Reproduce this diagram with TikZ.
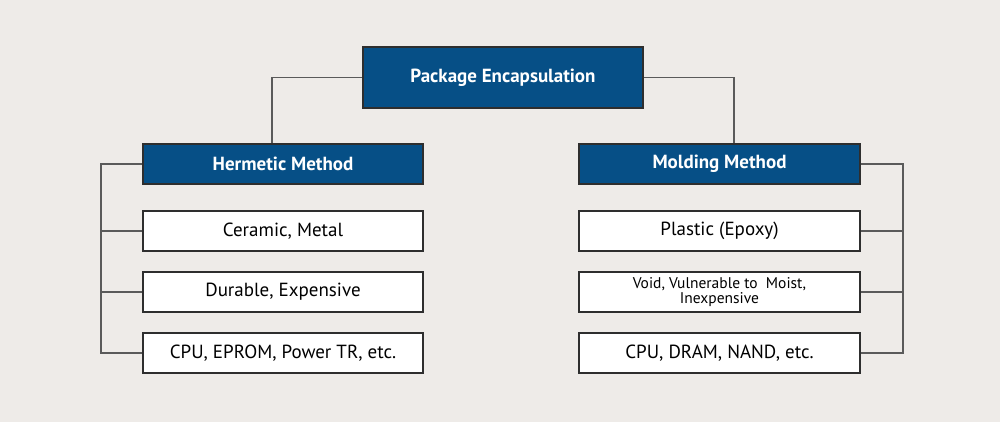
\documentclass[tikz,border=0pt]{standalone}
\usepackage{fontspec}
\setmainfont{PT Sans}
\definecolor{bg}{HTML}{EEEBE8}
\definecolor{navy}{HTML}{064F86}
\definecolor{edge}{HTML}{2E2E2E}
\definecolor{wire}{HTML}{5A5A5A}
\begin{document}
\begin{tikzpicture}[x=1pt,y=-1pt,
  head/.style={draw=edge,line width=1.3pt,fill=navy,text=white,font=\fontsize{19}{21}\selectfont\bfseries,minimum height=40pt,inner sep=0pt},
  item/.style={draw=edge,line width=1.2pt,fill=white,text=black,font=\fontsize{19}{21}\selectfont,minimum width=280pt,minimum height=40pt,inner sep=0pt,align=center},
  wirest/.style={draw=wire,line width=1.5pt}]
\fill[bg] (0,0) rectangle (1000,422);
\useasboundingbox (0,0) rectangle (1000,422);
\node[head,minimum width=280pt,minimum height=61pt] (top) at (503,77.5) {Package Encapsulation};
\node[head,minimum width=280pt] (herm) at (283,164) {Hermetic Method};
\node[head,minimum width=281pt] (mold) at (719.5,164) {Molding Method};
\node[item] (h1) at (283,231) {Ceramic, Metal};
\node[item] (h2) at (283,292) {Durable, Expensive};
\node[item] (h3) at (283,353) {CPU, EPROM, Power TR, etc.};
\node[item,minimum width=281pt] (m1) at (719.5,231) {Plastic (Epoxy)};
\node[item,minimum width=281pt,font=\fontsize{15.5}{15}\selectfont] (m2) at (719.5,292) {Void, Vulnerable to\ \ Moist,\\Inexpensive};
\node[item,minimum width=281pt] (m3) at (719.5,353) {CPU, DRAM, NAND, etc.};
\coordinate (hl) at (101,164);
\coordinate (mr) at (903,164);
\coordinate (hx) at (272,164);
\coordinate (mx) at (734,164);
\draw[wirest] (top.west) -| (hx |- herm.north);
\draw[wirest] (top.east) -| (mx |- mold.north);
\draw[wirest] (herm.west) -- (hl) |- (h3.west);
\draw[wirest] (hl |- h1.west) -- (h1.west);
\draw[wirest] (hl |- h2.west) -- (h2.west);
\draw[wirest] (mold.east) -- (mr) |- (m3.east);
\draw[wirest] (mr |- m1.east) -- (m1.east);
\draw[wirest] (mr |- m2.east) -- (m2.east);
\end{tikzpicture}
\end{document}
